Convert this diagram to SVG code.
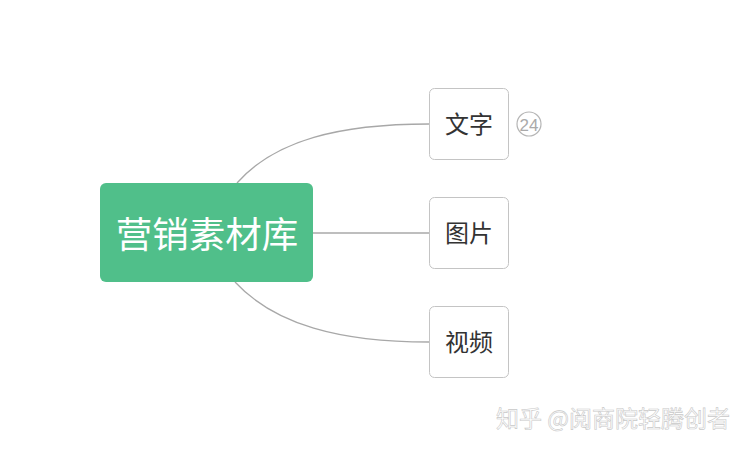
<svg xmlns="http://www.w3.org/2000/svg" width="746" height="449" viewBox="0 0 746 449">
<style>
text{font-family:"Noto Sans CJK SC","Noto Sans",sans-serif;text-anchor:middle}
.child rect{fill:#fff;stroke:#c4c4c4;stroke-width:1}
.child text{font-size:24px;fill:#333}
.conn path{fill:none;stroke:#a8a8a8;stroke-width:1.3}
</style>
<rect width="746" height="449" fill="#fff"/>
<g id="connectors" class="conn">
<path d="M237,183 C275,140 340,124 429,124"/>
<path d="M313,233 L429,233"/>
<path d="M235,282 C275,325 340,342 429,342"/>
</g>
<g id="root">
<rect x="100" y="183" width="213" height="99" rx="6" fill="#50bf8a"/>
<text x="207" y="248" font-size="36.5" fill="#fff">营销素材库</text>
</g>
<g id="n1" class="child">
<rect x="429.5" y="88.5" width="79" height="71" rx="5"/>
<text x="469" y="133">文字</text>
</g>
<g id="badge">
<circle cx="529" cy="124" r="12" fill="#fff" stroke="#b5b5b5" stroke-width="1.2"/>
<text x="529" y="130.5" font-size="17" fill="#aaa" style="font-family:'Liberation Sans',sans-serif">24</text>
</g>
<g id="n2" class="child">
<rect x="429.5" y="197.5" width="79" height="71" rx="5"/>
<text x="469" y="242">图片</text>
</g>
<g id="n3" class="child">
<rect x="429.5" y="306.5" width="79" height="71" rx="5"/>
<text x="469" y="351">视频</text>
</g>
<g id="watermark">
<text x="613" y="427" font-size="23" fill="#fff" stroke="#c8c8c8" stroke-width="0.6">知乎 @阅商院轻腾创者</text>
</g>
</svg>
